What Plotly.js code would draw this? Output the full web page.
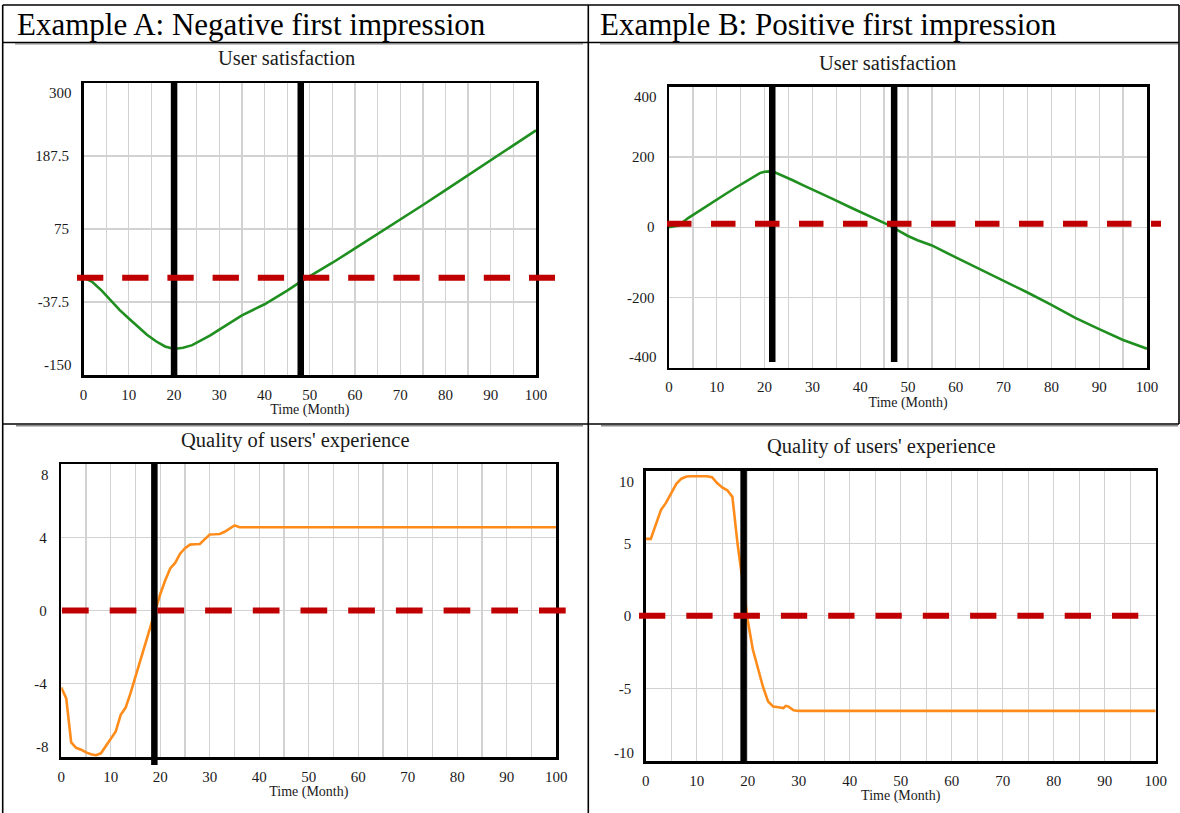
<!DOCTYPE html>
<html>
<head>
<meta charset="utf-8">
<script src="https://cdn.plot.ly/plotly-3.0.1.min.js"></script>
<style>
html,body{margin:0;padding:0;background:#ffffff;}
#chart{width:1180px;height:813px;}
</style>
</head>
<body>
<div id="chart"></div>
<script>
// ---------------- data ----------------
const headerTexts = ["Example A: Negative first impression", "Example B: Positive first impression"];
const panelTitles = ["User satisfaction", "User satisfaction", "Quality of users' experience", "Quality of users' experience"];
const xAxisTitle = "Time (Month)";
const xGridVals = [0,5,10,15,20,25,30,35,40,45,50,55,60,65,70,75,80,85,90,95,100];
const xTickLabels = ["0","","10","","20","","30","","40","","50","","60","","70","","80","","90","","100"];
const xRange = [0, 100];

// Example A - User satisfaction
const satA_t = [0,2,4,6,8,10,12,14,16,18,20,22,24,26,28,30,35,40,45,48,50,55,60,65,70,75,80,85,90,95,100];
const satA_v = [0,-7,-20,-35,-50,-63,-76,-88,-98,-106,-110,-108,-104,-97,-89,-80,-58,-41,-20,-6,2,23,45,67,90,112,135,158,181,204,227];
const satA_range = [-150, 300];
const satA_ticks = [300, 187.5, 75, -37.5, -150];
const satA_labels = ["300", "187.5", "75", "-37.5", "-150"];
const satA_markers = [20, 48];

// Example B - User satisfaction
const satB_t = [0,2,4,6,8,10,12,14,16,18,19,20,21,22,24,26,28,30,34,38,42,46,48,50,52,55,60,65,70,75,80,85,90,95,100];
const satB_v = [0,5,26,44,62,79,96,113,130,147,154,158,159,157,146,133,120,108,82,56,32,6,-10,-25,-37,-52,-86,-119,-152,-186,-221,-258,-290,-321,-346];
const satB_range = [-400, 400];
const satB_ticks = [400, 200, 0, -200, -400];
const satB_labels = ["400", "200", "0", "-200", "-400"];
const satB_markers = [21.6, 47.1];

// Example A - Quality of users' experience
const qualA_t = [0,1,2,3,4,5,6,7,8,9,10,11,12,13,14,15,16,17,18,19,20,21,22,23,24,25,26,27,28,29,30,31,32,33,34,35,36,40,50,60,70,80,90,100];
const qualA_v = [-4.2,-4.8,-7.2,-7.5,-7.6,-7.75,-7.85,-7.9,-7.8,-7.4,-7.0,-6.6,-5.7,-5.3,-4.5,-3.6,-2.7,-1.8,-0.85,0.1,0.9,1.65,2.3,2.6,3.1,3.4,3.6,3.62,3.63,3.9,4.15,4.16,4.18,4.3,4.5,4.65,4.55,4.55,4.55,4.55,4.55,4.55,4.55,4.55];
const qualA_range = [-8, 8];
const qualA_ticks = [8, 4, 0, -4, -8];
const qualA_labels = ["8", "4", "0", "-4", "-8"];
const qualA_markers = [18.8];

// Example B - Quality of users' experience
const qualB_t = [0,1,2,3,4,5,6,7,8,9,10,11,12,13,14,15,16,17,17.5,18,19,20,21,22,23,24,25,26,27,27.5,28,29,30,40,50,60,70,80,90,100];
const qualB_v = [5.3,5.3,6.3,7.3,7.8,8.4,9.1,9.45,9.6,9.62,9.62,9.62,9.62,9.55,9.15,8.85,8.65,8.2,6.5,5.0,2.4,-0.3,-2.3,-3.7,-4.9,-5.9,-6.25,-6.3,-6.35,-6.2,-6.25,-6.5,-6.55,-6.55,-6.55,-6.55,-6.55,-6.55,-6.55,-6.55];
const qualB_range = [-10, 10];
const qualB_ticks = [10, 5, 0, -5, -10];
const qualB_labels = ["10", "5", "0", "-5", "-10"];
const qualB_markers = [19.2];

// reference (red dashed) level per panel
const refLevels = [0, 10, 0, 0];

// ---------------- styling / layout ----------------
const W = 1180, H = 813;
const FONT = "Liberation Serif, 'Times New Roman', Times, serif";
const GREEN = "#1f8f1f", ORANGE = "#ff8c1a", RED = "#c00000";
const GRID = "#d2d2d2";

const panels = [
  {t: satA_t, v: satA_v, color: GREEN, range: satA_range, ticks: satA_ticks, labels: satA_labels, markers: satA_markers,
   box: [83.6, 536, 83, 375], markerSpan: [0, 1], dash: {from: 77, to: 555, on: 26.3, off: 18.9},
   titlePos: [286, 58], edgeShift: [-10, 10]},
  {t: satB_t, v: satB_v, color: GREEN, range: satB_range, ticks: satB_ticks, labels: satB_labels, markers: satB_markers,
   box: [669, 1147, 86.7, 367.7], markerSpan: [0.02, 1], dash: {from: 667, to: 1161, on: 24.5, off: 19.5},
   titlePos: [887, 62.8], edgeShift: [-10, 11]},
  {t: qualA_t, v: qualA_v, color: ORANGE, range: qualA_range, ticks: qualA_ticks, labels: qualA_labels, markers: qualA_markers,
   box: [61.3, 556.3, 464, 757], markerSpan: [-0.027, 1], dash: {from: 62, to: 567, on: 26.7, off: 21},
   titlePos: [295.5, 440.5], edgeShift: [-11, 10]},
  {t: qualB_t, v: qualB_v, color: ORANGE, range: qualB_range, ticks: qualB_ticks, labels: qualB_labels, markers: qualB_markers,
   box: [645.7, 1155.7, 470.7, 761], markerSpan: [0, 1], dash: {from: 639, to: 1140, on: 26.3, off: 21},
   titlePos: [881.7, 446], edgeShift: [-11, 8]}
];

const traces = [];
const shapes = [];
const annotations = [];
const layout = {
  width: W, height: H,
  margin: {l: 0, r: 0, t: 0, b: 0, pad: 0},
  paper_bgcolor: "#ffffff", plot_bgcolor: "#ffffff",
  showlegend: false,
  font: {family: FONT, color: "#1a1a1a"},
  shapes: shapes, annotations: annotations
};

function pxX(x) { return x / W; }
function pxY(y) { return 1 - y / H; }

panels.forEach((p, i) => {
  const n = i === 0 ? "" : String(i + 1);
  const xa = "x" + n, ya = "y" + n;
  const [l, r, t, b] = p.box;

  traces.push({
    type: "scatter", mode: "lines", x: p.t, y: p.v,
    xaxis: xa, yaxis: ya,
    line: {color: p.color, width: 2.6},
    hoverinfo: "skip", showlegend: false
  });

  layout["xaxis" + n] = {
    domain: [pxX(l), pxX(r)], range: xRange, anchor: ya,
    tickmode: "array", tickvals: xGridVals, ticktext: xTickLabels,
    showgrid: true, gridcolor: GRID, gridwidth: 1.3,
    zeroline: false, showline: true, mirror: true, linecolor: "#000", linewidth: 2.5,
    ticks: "", ticklabelstandoff: 4,
    tickfont: {family: FONT, size: 15, color: "#1a1a1a"},
    title: {text: xAxisTitle, font: {family: FONT, size: 14, color: "#1a1a1a"}, standoff: 2},
    fixedrange: true
  };

  // inner tick labels on axis; edge labels drawn inset like the original
  const ytext = p.labels.map((s, k) => (k === 0 || k === p.labels.length - 1) ? "" : s);
  layout["yaxis" + n] = {
    domain: [pxY(b), pxY(t)], range: p.range, anchor: xa,
    tickmode: "array", tickvals: p.ticks, ticktext: ytext,
    showgrid: true, gridcolor: GRID, gridwidth: 1.3,
    zeroline: false, showline: true, mirror: true, linecolor: "#000", linewidth: 2.5,
    ticks: "", ticklabelstandoff: 9,
    tickfont: {family: FONT, size: 15, color: "#1a1a1a"},
    fixedrange: true
  };

  const ymin = p.range[0], ymax = p.range[1];
  const edges = [{v: p.ticks[0], s: p.labels[0], shift: p.edgeShift[0]},
                 {v: p.ticks[p.ticks.length - 1], s: p.labels[p.labels.length - 1], shift: p.edgeShift[1]}];
  edges.forEach(e => {
    annotations.push({
      xref: xa + " domain", yref: ya, x: 0, y: e.v, xanchor: "right", yanchor: "middle",
      xshift: -10, yshift: e.shift, text: e.s, showarrow: false,
      font: {family: FONT, size: 15, color: "#1a1a1a"}
    });
  });

  // black vertical marker lines
  p.markers.forEach(m => {
    shapes.push({
      type: "line", xref: xa + " domain", yref: ya + " domain",
      x0: (m - xRange[0]) / (xRange[1] - xRange[0]), x1: (m - xRange[0]) / (xRange[1] - xRange[0]),
      y0: p.markerSpan[0], y1: p.markerSpan[1],
      line: {color: "#000000", width: 6.5}, layer: "above"
    });
  });

  // red dashed reference line
  const yf = (refLevels[i] - ymin) / (ymax - ymin);
  shapes.push({
    type: "line", xref: xa + " domain", yref: ya + " domain",
    x0: (p.dash.from - l) / (r - l), x1: (p.dash.to - l) / (r - l), y0: yf, y1: yf,
    line: {color: RED, width: 6, dash: p.dash.on + "px," + p.dash.off + "px"}, layer: "above"
  });

  // panel title
  annotations.push({
    xref: "paper", yref: "paper", x: pxX(p.titlePos[0]), y: pxY(p.titlePos[1]),
    xanchor: "center", yanchor: "middle", text: panelTitles[i], showarrow: false,
    font: {family: FONT, size: 20.5, color: "#1a1a1a"}
  });
});

// headers
annotations.push({xref: "paper", yref: "paper", x: pxX(15), y: pxY(24), xanchor: "left", yanchor: "middle",
  text: headerTexts[0], showarrow: false, font: {family: FONT, size: 31, color: "#000"}});
annotations.push({xref: "paper", yref: "paper", x: pxX(597.5), y: pxY(24), xanchor: "left", yanchor: "middle",
  text: headerTexts[1], showarrow: false, font: {family: FONT, size: 31, color: "#000"}});

// table rules (paper coordinates)
function rule(x0, y0, x1, y1, color, width) {
  shapes.push({type: "line", xref: "paper", yref: "paper", x0: pxX(x0), y0: pxY(y0), x1: pxX(x1), y1: pxY(y1),
    line: {color: color, width: width}, layer: "above"});
}
rule(2.7, 5, 1179, 5, "#000", 1.6);          // top
rule(2.7, 5, 2.7, 813, "#000", 1.6);         // left
rule(588.3, 5, 588.3, 813, "#000", 1.6);     // middle divider
rule(1179, 5, 1179, 424, "#000", 1.6);       // right (top row)
rule(2.7, 42.5, 1179, 42.5, "#000", 1.4);    // header bottom
rule(15, 43.8, 583, 43.8, "#8a8a8a", 1.6);
rule(600, 43.8, 1178, 43.8, "#8a8a8a", 1.6);
rule(2.7, 424, 1179, 424, "#000", 1.6);      // row separator
rule(16, 425.7, 583, 425.7, "#8a8a8a", 1.6);
rule(601, 425.7, 1178, 425.7, "#8a8a8a", 1.6);

Plotly.newPlot("chart", traces, layout, {displayModeBar: false, staticPlot: true});
</script>
</body>
</html>
